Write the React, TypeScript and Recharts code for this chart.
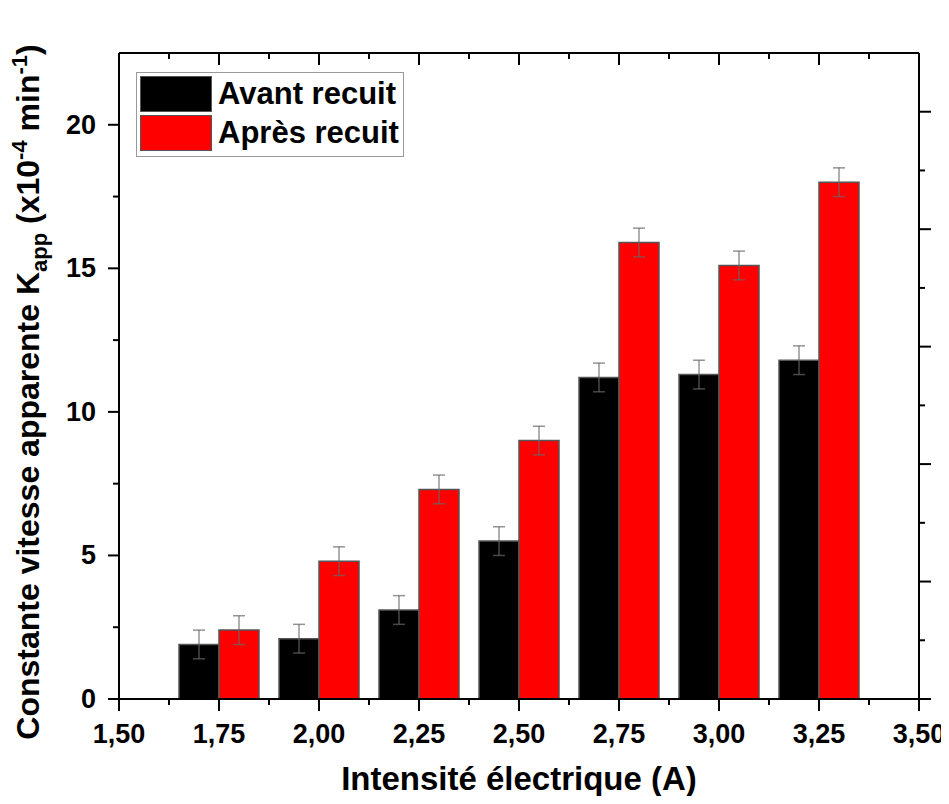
import { Bar, BarChart, ErrorBar, Legend, XAxis, YAxis } from 'recharts';

const currents = [1.75, 2.0, 2.25, 2.5, 2.75, 3.0, 3.25];
const avantRecuit = [1.9, 2.1, 3.1, 5.5, 11.2, 11.3, 11.8];
const apresRecuit = [2.4, 4.8, 7.3, 9.0, 15.9, 15.1, 18.0];
const avantErr = [0.5, 0.5, 0.5, 0.5, 0.5, 0.5, 0.5];
const apresErr = [0.5, 0.5, 0.5, 0.5, 0.5, 0.5, 0.5];

const seriesNames = ['Avant recuit', 'Après recuit'];
const seriesColors = ['#000000', '#ff0000'];

const xMajorTicks = [1.5, 1.75, 2.0, 2.25, 2.5, 2.75, 3.0, 3.25, 3.5];
const xMinorTicks = [1.625, 1.875, 2.125, 2.375, 2.625, 2.875, 3.125, 3.375];
const yMajorTicks = [0, 5, 10, 15, 20];
const yMinorTicks = [2.5, 7.5, 12.5, 17.5];
const rightMajorTicks = [0, 1, 2, 3, 4, 5];
const rightMinorTicks = [0.5, 1.5, 2.5, 3.5, 4.5];

const data = currents.map((c, i) => ({
  current: c,
  avant: avantRecuit[i],
  apres: apresRecuit[i],
  avantErr: avantErr[i],
  apresErr: apresErr[i],
}));

const font = '"Liberation Sans", Arial, sans-serif';
const sortNum = (a: number[]) => [...a].sort((p, q) => p - q);

function BottomTick({ x, y, payload }: any) {
  const major = xMajorTicks.includes(payload.value);
  return (
    <g>
      <line x1={x} x2={x} y1={y} y2={y + (major ? 12 : 6)} stroke="#000" strokeWidth={2} />
      {major && (
        <text x={x} y={y + 44} textAnchor="middle" fontSize={27} fontWeight="bold" fontFamily={font} fill="#000">
          {payload.value.toFixed(2).replace('.', ',')}
        </text>
      )}
    </g>
  );
}

function TopTick({ x, y, payload }: any) {
  const major = xMajorTicks.includes(payload.value);
  return <line x1={x} x2={x} y1={y} y2={y + (major ? 12 : 6)} stroke="#000" strokeWidth={2} />;
}

function LeftTick({ x, y, payload }: any) {
  const major = yMajorTicks.includes(payload.value);
  return (
    <g>
      <line x1={x} x2={x - (major ? 11 : 6)} y1={y} y2={y} stroke="#000" strokeWidth={2} />
      {major && (
        <text x={x - 23} y={y + 9} textAnchor="end" fontSize={27} fontWeight="bold" fontFamily={font} fill="#000">
          {payload.value}
        </text>
      )}
    </g>
  );
}

function RightTick({ x, y, payload }: any) {
  const major = rightMajorTicks.includes(payload.value);
  return <line x1={x} x2={x + (major ? 12 : 6)} y1={y} y2={y} stroke="#000" strokeWidth={2} />;
}

function XTitle({ viewBox }: any) {
  const cx = viewBox ? viewBox.x + viewBox.width / 2 : 511;
  const y = viewBox ? viewBox.y + 91 : 782;
  return (
    <text x={cx} y={y} textAnchor="middle" fontSize={33} fontWeight="bold" fontFamily={font} fill="#000">
      Intensité électrique (A)
    </text>
  );
}

function YTitle() {
  const cx = 31;
  const cy = 384;
  return (
    <text
      x={cx}
      y={cy}
      transform={`rotate(-90, ${cx}, ${cy})`}
      textAnchor="middle"
      fontSize={32}
      fontWeight="bold"
      fontFamily={font}
      fill="#000"
    >
      Constante vitesse apparente K
      <tspan dy={8} fontSize={22}>app</tspan>
      <tspan dy={-8}> (x10</tspan>
      <tspan dy={-12} fontSize={22}>-4</tspan>
      <tspan dy={12}> min</tspan>
      <tspan dy={-12} fontSize={22}>-1</tspan>
      <tspan dy={12}>)</tspan>
    </text>
  );
}

function LegendBox() {
  return (
    <div
      style={{
        border: '1px solid #999',
        background: '#fff',
        padding: '3px 4px 2px 3px',
        fontFamily: font,
        fontWeight: 'bold',
        fontSize: 31,
        lineHeight: '36px',
      }}
    >
      {seriesNames.map((name, i) => (
        <div key={name} style={{ display: 'flex', alignItems: 'center', marginBottom: 3 }}>
          <span
            style={{
              width: 70,
              height: 34,
              background: seriesColors[i],
              border: '1px solid #555',
              marginRight: 6,
              display: 'inline-block',
            }}
          />
          <span style={{ color: '#000' }}>{name}</span>
        </div>
      ))}
    </div>
  );
}

export default function App() {
  return (
    <div style={{ width: 941, height: 788, fontFamily: font, background: '#fff' }}>
      <BarChart
        width={941}
        height={788}
        data={data}
        barGap={0}
        margin={{ top: 35, right: 10, bottom: 37, left: 51 }}
        style={{ overflow: 'visible' }}
      >
        <XAxis
          xAxisId="bottom"
          dataKey="current"
          type="number"
          domain={[1.5, 3.5]}
          ticks={sortNum([...xMajorTicks, ...xMinorTicks])}
          interval={0}
          height={60}
          tickSize={0}
          tickMargin={0}
          tickLine={false}
          tick={<BottomTick />}
          axisLine={{ stroke: '#000', strokeWidth: 2 }}
          label={<XTitle />}
        />
        <XAxis
          xAxisId="top"
          orientation="top"
          dataKey="current"
          type="number"
          domain={[1.5, 3.5]}
          ticks={sortNum([...xMajorTicks, ...xMinorTicks])}
          interval={0}
          height={10}
          tickSize={0}
          tickMargin={0}
          tickLine={false}
          tick={<TopTick />}
          axisLine={{ stroke: '#000', strokeWidth: 2 }}
        />
        <YAxis
          yAxisId="left"
          type="number"
          domain={[0, 22.5]}
          ticks={sortNum([...yMajorTicks, ...yMinorTicks])}
          interval={0}
          width={60}
          tickSize={0}
          tickMargin={0}
          tickLine={false}
          tick={<LeftTick />}
          axisLine={{ stroke: '#000', strokeWidth: 2 }}
          label={<YTitle />}
        />
        <YAxis
          yAxisId="right"
          orientation="right"
          type="number"
          domain={[0, 5.5]}
          allowDataOverflow
          ticks={sortNum([...rightMajorTicks, ...rightMinorTicks])}
          interval={0}
          width={20}
          tickSize={0}
          tickMargin={0}
          tickLine={false}
          tick={<RightTick />}
          axisLine={{ stroke: '#000', strokeWidth: 2 }}
        />
        <Legend
          layout="vertical"
          verticalAlign="middle"
          align="center"
          content={<LegendBox />}
          wrapperStyle={{ left: 128, top: 64, width: 'auto' }}
        />
        <Bar
          xAxisId="bottom"
          yAxisId="left"
          dataKey="avant"
          name={seriesNames[0]}
          fill={seriesColors[0]}
          stroke="#555"
          strokeWidth={1.5}
          barSize={40}
          isAnimationActive={false}
        >
          <ErrorBar dataKey="avantErr" width={6} stroke="#666" strokeOpacity={0.7} strokeWidth={1.5} />
        </Bar>
        <Bar
          xAxisId="bottom"
          yAxisId="left"
          dataKey="apres"
          name={seriesNames[1]}
          fill={seriesColors[1]}
          stroke="#555"
          strokeWidth={1.5}
          barSize={40}
          isAnimationActive={false}
        >
          <ErrorBar dataKey="apresErr" width={6} stroke="#666" strokeOpacity={0.7} strokeWidth={1.5} />
        </Bar>
      </BarChart>
    </div>
  );
}
